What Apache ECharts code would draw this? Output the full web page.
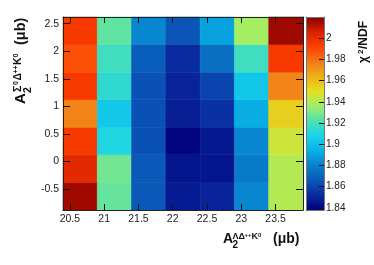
<!DOCTYPE html>
<html>
<head>
<meta charset="utf-8">
<script src="https://cdn.jsdelivr.net/npm/echarts/dist/echarts.min.js"></script>
<style>
html,body{margin:0;padding:0;background:#fff;}
#chart{width:374px;height:265px;}
</style>
</head>
<body>
<div id="chart"></div>
<script>
// ---- data ----
const xBins = [20.65, 21.15, 21.65, 22.15, 22.65, 23.15, 23.65];
const yBins = [-0.63, -0.13, 0.37, 0.87, 1.37, 1.87, 2.37];
// chi2/NDF, rows from bottom (y=-0.63) to top (y=2.37), columns follow xBins
const chi2Row0 = [2.016, 1.926, 1.866, 1.847, 1.850, 1.882, 1.940];
const chi2Row1 = [2.002, 1.928, 1.866, 1.845, 1.845, 1.878, 1.940];
const chi2Row2 = [1.995, 1.910, 1.864, 1.840, 1.846, 1.882, 1.945];
const chi2Row3 = [1.975, 1.903, 1.864, 1.848, 1.854, 1.893, 1.955];
const chi2Row4 = [1.995, 1.914, 1.864, 1.850, 1.860, 1.903, 1.975];
const chi2Row5 = [1.988, 1.918, 1.868, 1.852, 1.874, 1.918, 1.995];
const chi2Row6 = [1.995, 1.925, 1.882, 1.865, 1.890, 1.937, 2.016];
const chi2Rows = [chi2Row0, chi2Row1, chi2Row2, chi2Row3, chi2Row4, chi2Row5, chi2Row6];
const xTicks = [20.5, 21, 21.5, 22, 22.5, 23, 23.5];
const yTicks = [-0.5, 0, 0.5, 1, 1.5, 2, 2.5];
const zTicks = [1.84, 1.86, 1.88, 1.9, 1.92, 1.94, 1.96, 1.98, 2];
const xRange = [20.4, 23.9];
const yRange = [-0.88, 2.62];
const zRange = [1.838, 2.02];
const palette = ['#00007a','#0a2aa0','#0a58b8','#0880cc','#08b0e6','#18d4e8','#50e0b0',
                 '#a0ee68','#e4e020','#eeb018','#f47818','#ff4000','#d82000','#880000'];

// ---- build ----
const FF = '"Liberation Sans", Arial, sans-serif';
const cells = [];
chi2Rows.forEach((row, j) => row.forEach((v, i) => cells.push([xBins[i], yBins[j], v])));
const halfW = (xBins[1] - xBins[0]) / 2;
const halfH = (yBins[1] - yBins[0]) / 2;

const chart = echarts.init(document.getElementById('chart'));
const lineC = '#222';
const tickStyle = {color: '#111', width: 1};
const labelBase = {fontFamily: FF, color: '#222'};

function frameAxis(extra) {
  const base = {
    type: 'value', z: 10, splitLine: {show: false},
    axisLine: {show: true, onZero: false, lineStyle: {color: lineC, width: 1}},
  };
  const o = Object.assign(base, extra);
  o.axisLine = Object.assign({show: true, onZero: false}, o.axisLine, {onZero: false});
  return o;
}

function piece(text, size, dx, dy) {
  return {type: 'text', x: dx, y: dy,
    style: {text: text, fontFamily: FF, fontWeight: 'bold', fontSize: size,
            fill: '#111', align: 'left', verticalAlign: 'middle'}};
}

const stops = palette.map((c, i) => ({offset: 1 - i / (palette.length - 1), color: c})).reverse();

const option = {
  animation: false,
  backgroundColor: '#fff',
  grid: [
    {left: 63, right: 71, top: 17, bottom: 55},
    {left: 306, right: 50, top: 17, bottom: 55}
  ],
  visualMap: {
    type: 'continuous', show: false, seriesIndex: 0, dimension: 2,
    min: zRange[0], max: zRange[1], inRange: {color: palette}
  },
  xAxis: [
    frameAxis({gridIndex: 0, min: xRange[0], max: xRange[1], position: 'bottom',
      axisTick: {inside: true, length: 6, lineStyle: tickStyle, customValues: xTicks},
      axisLabel: Object.assign({customValues: xTicks, fontSize: 10.5, margin: 4,
        formatter: v => String(v)}, labelBase)}),
    frameAxis({gridIndex: 0, min: xRange[0], max: xRange[1], position: 'top',
      axisTick: {inside: true, length: 6, lineStyle: tickStyle, customValues: xTicks},
      axisLabel: {show: false}}),
    frameAxis({gridIndex: 1, min: 0, max: 1, position: 'bottom',
      axisLine: {lineStyle: {color: '#777'}}, axisTick: {show: false}, axisLabel: {show: false}}),
    frameAxis({gridIndex: 1, min: 0, max: 1, position: 'top',
      axisLine: {lineStyle: {color: '#777'}}, axisTick: {show: false}, axisLabel: {show: false}})
  ],
  yAxis: [
    frameAxis({gridIndex: 0, min: yRange[0], max: yRange[1], position: 'left',
      axisTick: {inside: true, length: 7, lineStyle: tickStyle, customValues: yTicks},
      axisLabel: Object.assign({customValues: yTicks, fontSize: 10.5, margin: 4,
        formatter: v => String(v)}, labelBase)}),
    frameAxis({gridIndex: 0, min: yRange[0], max: yRange[1], position: 'right',
      axisTick: {inside: true, length: 7, lineStyle: tickStyle, customValues: yTicks},
      axisLabel: {show: false}}),
    frameAxis({gridIndex: 1, min: zRange[0], max: zRange[1], position: 'right',
      axisLine: {lineStyle: {color: '#777'}},
      axisTick: {inside: true, length: 5, lineStyle: tickStyle, customValues: zTicks},
      axisLabel: Object.assign({customValues: zTicks, fontSize: 10, margin: 2,
        formatter: v => String(parseFloat(Number(v).toFixed(2)))}, labelBase)}),
    frameAxis({gridIndex: 1, min: zRange[0], max: zRange[1], position: 'left',
      axisLine: {lineStyle: {color: '#777'}}, axisTick: {show: false}, axisLabel: {show: false}})
  ],
  series: [
    {
      type: 'custom', xAxisIndex: 0, yAxisIndex: 0, data: cells,
      encode: {x: 0, y: 1},
      renderItem: function (params, api) {
        const x = api.value(0), y = api.value(1);
        const p1 = api.coord([x - halfW, y + halfH]);
        const p2 = api.coord([x + halfW, y - halfH]);
        const c = api.visual('color');
        return {type: 'rect',
          shape: {x: p1[0], y: p1[1], width: p2[0] - p1[0], height: p2[1] - p1[1]},
          style: {fill: c, stroke: c, lineWidth: 0.6}};
      }
    },
    {
      type: 'custom', xAxisIndex: 2, yAxisIndex: 2, data: [[0, zRange[0], zRange[1]]],
      renderItem: function (params, api) {
        const p1 = api.coord([0, api.value(2)]);
        const p2 = api.coord([1, api.value(1)]);
        return {type: 'rect',
          shape: {x: p1[0], y: p1[1], width: p2[0] - p1[0], height: p2[1] - p1[1]},
          style: {fill: new echarts.graphic.LinearGradient(0, 0, 0, 1, stops)}};
      }
    }
  ],
  graphic: [
    {type: 'group', x: 223, y: 239.5, children: [
      piece('A', 14, 0, 0), piece('2', 10, 9.5, 6),
      piece('ΛΔ', 9, 9.5, -2.5), piece('++', 6, 21.5, -4.5),
      piece('K', 9, 28.5, -2.5), piece('0', 6, 35, -4.5),
      piece('(μb)', 14, 50, 0)
    ]},
    {type: 'group', x: 21, y: 104, rotation: Math.PI / 2, children: [
      piece('A', 15, 0, 0), piece('2', 10.5, 11, 7),
      piece('Σ', 10.5, 12, -2.5), piece('0', 7, 19, -4.5),
      piece('Δ', 10.5, 23.5, -2.5), piece('++', 7, 30.5, -4.5),
      piece('K', 10.5, 39, -2.5), piece('0', 7, 46.5, -4.5),
      piece('(μb)', 14.5, 59, 0)
    ]},
    {type: 'group', x: 364, y: 63, rotation: Math.PI / 2, children: [
      piece('χ', 12, 0, 0), piece('2', 8, 9, -3.5), piece('/NDF', 12, 14, 0)
    ]}
  ]
};
chart.setOption(option);
</script>
</body>
</html>
